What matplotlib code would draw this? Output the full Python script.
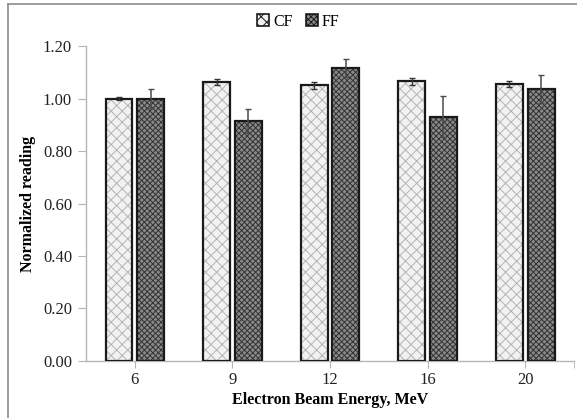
import numpy as np
import matplotlib
matplotlib.use("Agg")
import matplotlib.pyplot as plt
from matplotlib.lines import Line2D
from matplotlib.patches import Patch

plt.rcParams['font.family'] = ['Liberation Serif', 'DejaVu Serif']
plt.rcParams['hatch.linewidth'] = 0.7

energies = ['6', '9', '12', '16', '20']
cf_vals = [1.001, 1.064, 1.051, 1.066, 1.057]
cf_err = [0.006, 0.013, 0.013, 0.013, 0.011]
ff_vals = [1.000, 0.915, 1.117, 0.931, 1.037]
ff_err = [0.037, 0.046, 0.033, 0.078, 0.052]
yticks = [0.0, 0.2, 0.4, 0.6, 0.8, 1.0, 1.2]

fig = plt.figure(figsize=(5.77, 4.18), dpi=100)
ax = fig.add_axes([0.149, 0.137, 0.846, 0.752])

x = np.arange(len(energies))
w = 0.275
off = 0.162

# hatched fills first, outlines on top
ax.bar(x - off, cf_vals, w, color='#f2f2f2', edgecolor='#b4b4b4', hatch='xxx', lw=0, zorder=2)
ax.bar(x - off, cf_vals, w, fill=False, edgecolor='#1a1a1a', lw=1.6, zorder=3)
ax.bar(x + off, ff_vals, w, color='#8a8a8a', edgecolor='#333333', hatch='xxxxxx', lw=0, zorder=2)
ax.bar(x + off, ff_vals, w, fill=False, edgecolor='#1a1a1a', lw=1.6, zorder=3)

ax.errorbar(x - off, cf_vals, yerr=cf_err, fmt='none', ecolor='#333333', elinewidth=1, capsize=2.5, capthick=1, zorder=4)
ax.errorbar(x + off, ff_vals, yerr=ff_err, fmt='none', ecolor='#4a4a4a', elinewidth=1.1, capsize=2.5, capthick=1, zorder=4)

ax.set_xlim(-0.5, 4.5)
ax.set_ylim(0, 1.2)
ax.set_yticks(yticks)
ax.set_yticklabels([f'{v:.2f}' for v in yticks])
ax.set_xticks(x)
ax.set_xticklabels(energies)
ax.set_xticks([4.5], minor=True)

for s in ['top', 'right']:
    ax.spines[s].set_visible(False)
for s in ['left', 'bottom']:
    ax.spines[s].set_color('#b5b5b5')
    ax.spines[s].set_linewidth(1)
ax.tick_params(axis='both', which='both', direction='out', color='#b5b5b5', labelsize=12, labelcolor='#222222')
ax.tick_params(axis='y', length=6, pad=4)
ax.tick_params(axis='x', which='both', length=5, pad=3)

ax.set_xlabel('Electron Beam Energy, MeV', fontsize=11.5, fontweight='bold', labelpad=3)
ax.set_ylabel('Normalized reading', fontsize=11.5, fontweight='bold', labelpad=5)

handles = [Patch(facecolor='#f2f2f2', edgecolor='#1a1a1a', hatch='xxx', lw=1.2),
           Patch(facecolor='#8a8a8a', edgecolor='#1a1a1a', hatch='xxxxxx', lw=1.2)]
fig.legend(handles, ['CF', 'FF'], loc='center', bbox_to_anchor=(0.517, 0.948), ncol=2,
           frameon=False, fontsize=11.5, handlelength=0.75, handleheight=0.75,
           handletextpad=0.25, columnspacing=0.8)

# chart area border (cut off at right and bottom like the source)
fig.add_artist(Line2D([8 / 577, 8 / 577], [0, 1 - 4 / 418], color='#8c8c8c', lw=1.2))
fig.add_artist(Line2D([8 / 577, 1], [1 - 4 / 418, 1 - 4 / 418], color='#8c8c8c', lw=1.2))

fig.savefig('out.png', dpi=100)
